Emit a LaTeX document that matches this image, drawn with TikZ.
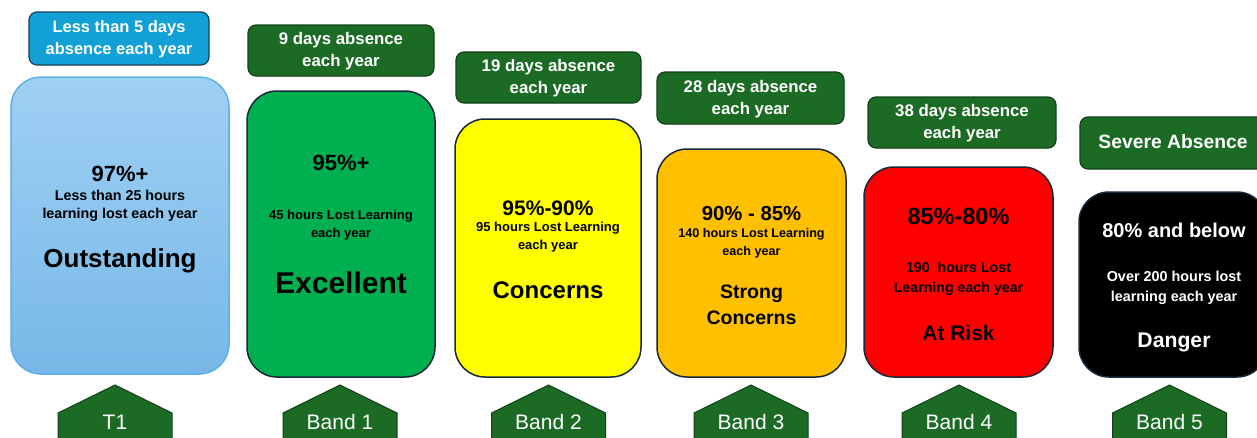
\documentclass[tikz,border=0pt]{standalone}
\usepackage{fontspec}
\setmainfont{Liberation Sans}
\usetikzlibrary{positioning}
\definecolor{skyblue}{HTML}{12A0D7}
\definecolor{skytop}{HTML}{9FD0F4}
\definecolor{skybot}{HTML}{77B8E8}
\definecolor{skyline}{HTML}{5FB0E6}
\definecolor{darkgreen}{HTML}{1C6B25}
\definecolor{greenline}{HTML}{12401A}
\definecolor{bandgreen}{HTML}{00B050}
\definecolor{bandyellow}{HTML}{FFFF00}
\definecolor{bandorange}{HTML}{FFC000}
\definecolor{bandred}{HTML}{FF0000}
\definecolor{navyline}{HTML}{17283A}
\newcommand{\fs}[2]{\fontsize{#1}{#2}\selectfont}
\newcommand{\bandtag}[3]{%
  \draw[tagshape] (#2-57,440) -- (#2-57,413) -- (#2,385) -- (#2+57,413) -- (#2+57,440);
  \node[tagtext] (#1) at (#2,422) {#3};}
\tikzset{
  absbox/.style={draw=greenline, fill=darkgreen, rounded corners=8pt, line width=1.2pt,
    text=white, font=\bfseries\fs{16.8}{22}, align=center, inner sep=0pt, text depth=2pt},
  bandbox/.style={draw=navyline, rounded corners=30pt, line width=1.5pt, inner sep=0pt},
  tagshape/.style={draw=greenline, fill=darkgreen, line width=1pt},
  tagtext/.style={text=white, font=\fs{21}{22}},
  pct/.style={font=\bfseries\fs{22}{24}, yshift=-2pt},
  hrs/.style={font=\bfseries\fs{13}{18}, align=center},
  rank/.style={font=\bfseries\fs{26}{28}, align=center, yshift=-2pt}
}
\begin{document}
\begin{tikzpicture}[x=1pt,y=-1pt]
  \useasboundingbox (0,0) rectangle (1257,437);
  \clip (0,0) rectangle (1257,437);

  % absence per year
  \node[absbox, fill=skyblue, draw=navyline!80!skyblue, minimum width=180pt, minimum height=53pt, font=\bfseries\fs{16.5}{22}] (abs0) at (119,38.5) {Less than 5 days\\absence each year};
  \node[absbox, minimum width=186pt, minimum height=51pt] (abs1) at (341,50.5) {9 days absence\\each year};
  \node[absbox, minimum width=185pt, minimum height=51pt] (abs2) at (548.5,77.5) {19 days absence\\each year};
  \node[absbox, minimum width=187pt, minimum height=52pt] (abs3) at (750.5,98) {28 days absence\\each year};
  \node[absbox, minimum width=188pt, minimum height=51pt] (abs4) at (962,122.5) {38 days absence\\each year};
  \node[absbox, minimum width=186pt, minimum height=52pt, font=\bfseries\fs{19.3}{22}] (abs5) at (1173,143) {Severe Absence};

  % bands
  \node[bandbox, draw=skyline, top color=skytop, bottom color=skybot, minimum width=218pt, minimum height=297pt] (box0) at (120,225.5) {};
  \node[bandbox, fill=bandgreen, minimum width=188pt, minimum height=286pt] (box1) at (341,234) {};
  \node[bandbox, fill=bandyellow, minimum width=186pt, minimum height=258pt] (box2) at (548,248) {};
  \node[bandbox, fill=bandorange, minimum width=189pt, minimum height=228pt] (box3) at (751.5,263) {};
  \node[bandbox, fill=bandred, minimum width=189pt, minimum height=210pt] (box4) at (958.5,272) {};
  \node[bandbox, fill=black, minimum width=188pt, minimum height=185pt] (box5) at (1173,284.5) {};

  \node[pct] (pct0) at (120,172) {97\%+};
  \node[hrs, font=\bfseries\fs{14.3}{18}] (hrs0) at (120,206) {Less than 25 hours\\learning lost each year};
  \node[rank] (rank0) at (120,259) {Outstanding};

  \node[pct] (pct1) at (341,161) {95\%+};
  \node[hrs] (hrs1) at (341,225) {45 hours Lost Learning\\each year};
  \node[rank, font=\bfseries\fs{30}{32}] (rank1) at (341,281) {Excellent};

  \node[pct, font=\bfseries\fs{21}{24}] (pct2) at (548,206) {95\%-90\%};
  \node[hrs] (hrs2) at (548,237) {95 hours Lost Learning\\each year};
  \node[rank, font=\bfseries\fs{24}{26}] (rank2) at (548,288) {Concerns};

  \node[pct, font=\bfseries\fs{20.3}{24}] (pct3) at (751.5,212) {90\% - 85\%};
  \node[hrs, font=\bfseries\fs{12.6}{18}] (hrs3) at (751.5,243) {140 hours Lost Learning\\each year};
  \node[rank, font=\bfseries\fs{19.5}{26}] (rank3) at (751.5,303) {Strong\\Concerns};

  \node[pct, font=\bfseries\fs{23.5}{24}] (pct4) at (958.5,214) {85\%-80\%};
  \node[hrs, font=\bfseries\fs{14.2}{20}] (hrs4) at (958.5,279) {190~ hours Lost\\Learning each year};
  \node[rank, font=\bfseries\fs{21}{24}] (rank4) at (958.5,331) {At Risk};

  \begin{scope}[text=white]
    \node[pct, font=\bfseries\fs{20}{22}] (pct5) at (1174,228) {80\% and below};
    \node[hrs, font=\bfseries\fs{14.4}{20}] (hrs5) at (1174,288) {Over 200 hours lost\\learning each year};
    \node[rank, font=\bfseries\fs{21.2}{24}] (rank5) at (1174,340) {Danger};
  \end{scope}

  % band tags
  \bandtag{tag0}{115}{T1}
  \bandtag{tag1}{340}{Band 1}
  \bandtag{tag2}{548.5}{Band 2}
  \bandtag{tag3}{751}{Band 3}
  \bandtag{tag4}{959}{Band 4}
  \bandtag{tag5}{1169.5}{Band 5}
\end{tikzpicture}
\end{document}
